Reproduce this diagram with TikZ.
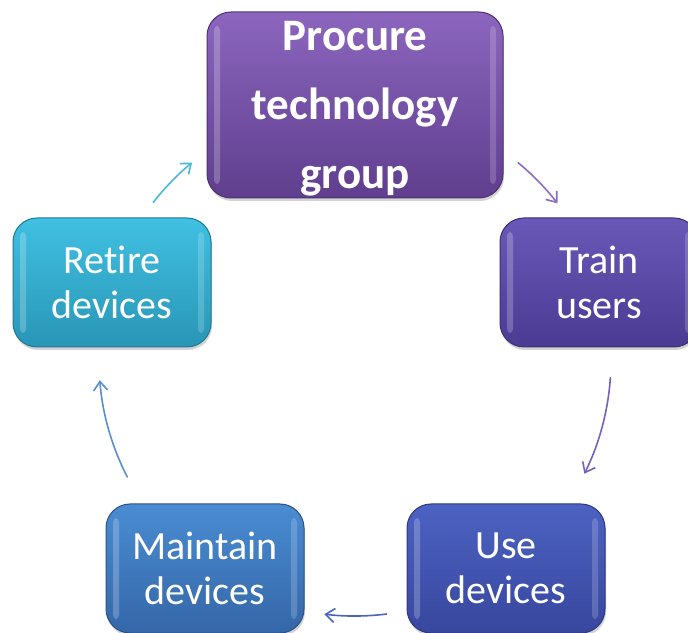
\documentclass[tikz,border=0pt]{standalone}
\usepackage{fontspec}
\setmainfont{Carlito}[Ligatures=NoCommon]
\usetikzlibrary{arrows.meta,shadows}
\definecolor{procTop}{HTML}{8C66BE}
\definecolor{procBot}{HTML}{5F3E8E}
\definecolor{trainTop}{HTML}{6A58B8}
\definecolor{trainBot}{HTML}{4B3B93}
\definecolor{useTop}{HTML}{4C62C2}
\definecolor{useBot}{HTML}{38479E}
\definecolor{maintTop}{HTML}{4A8CD2}
\definecolor{maintBot}{HTML}{3467A8}
\definecolor{retTop}{HTML}{40C0E2}
\definecolor{retBot}{HTML}{2996B6}
\begin{document}
\begin{tikzpicture}[x=1pt,y=1pt,>={Straight Barb[length=9pt,width=14pt]},line cap=round,line join=round]
	\tikzset{
		gbox/.style={rounded corners=24pt,minimum width=198pt,minimum height=129pt,
			text=white,align=center,font=\fontsize{40}{45}\selectfont,
			line width=1pt,top color=#1Top,bottom color=#1Bot,draw=#1Bot!80!black,
			drop shadow={shadow xshift=1pt,shadow yshift=-3pt,opacity=.35},
			path picture={
				\fill[white,opacity=.22,rounded corners=4pt]
					([xshift=7pt,yshift=-14pt]path picture bounding box.north west) rectangle
					([xshift=13pt,yshift=14pt]path picture bounding box.south west);
				\fill[white,opacity=.18,rounded corners=4pt]
					([xshift=-7pt,yshift=-14pt]path picture bounding box.north east) rectangle
					([xshift=-13pt,yshift=14pt]path picture bounding box.south east);
			}},
		cyc/.style={->,line width=1.6pt,shorten >=1pt},
	}
	\useasboundingbox (0,0) rectangle (688,632);
	% boxes
	\node[gbox=proc,minimum width=296pt,minimum height=186pt,text depth=0pt,
		font=\fontsize{45}{69}\selectfont\bfseries] (procure) at (355,527) {Procure\\technology\\group};
	\node[gbox=train] (train) at (599,349.5) {Train\\users};
	\node[gbox=use] (use) at (506,63.5) {Use\\devices};
	\node[gbox=maint] (maintain) at (205,63.5) {Maintain\\devices};
	\node[gbox=ret] (retire) at (112,349.5) {Retire\\devices};
	% cycle arrows
	\coordinate (ctr) at (355,272);
	\draw[cyc,color={rgb,255:red,139;green,108;blue,194}] ([shift={(50.4:256)}]ctr) arc[start angle=50.4,end angle=37.5,radius=256];
	\draw[cyc,color={rgb,255:red,117;green,96;blue,192}] ([shift={(-4:256)}]ctr) arc[start angle=-4,end angle=-26.6,radius=256];
	\draw[cyc,color={rgb,255:red,75;green,98;blue,192}] ([shift={(-82.9:256)}]ctr) arc[start angle=-82.9,end angle=-97.1,radius=256];
	\draw[cyc,color={rgb,255:red,90;green,142;blue,210}] ([shift={(207.2:256)}]ctr) arc[start angle=207.2,end angle=184.3,radius=256];
	\draw[cyc,color={rgb,255:red,75;green,184;blue,216}] ([shift={(142:256)}]ctr) arc[start angle=142,end angle=129.3,radius=256];
\end{tikzpicture}
\end{document}
